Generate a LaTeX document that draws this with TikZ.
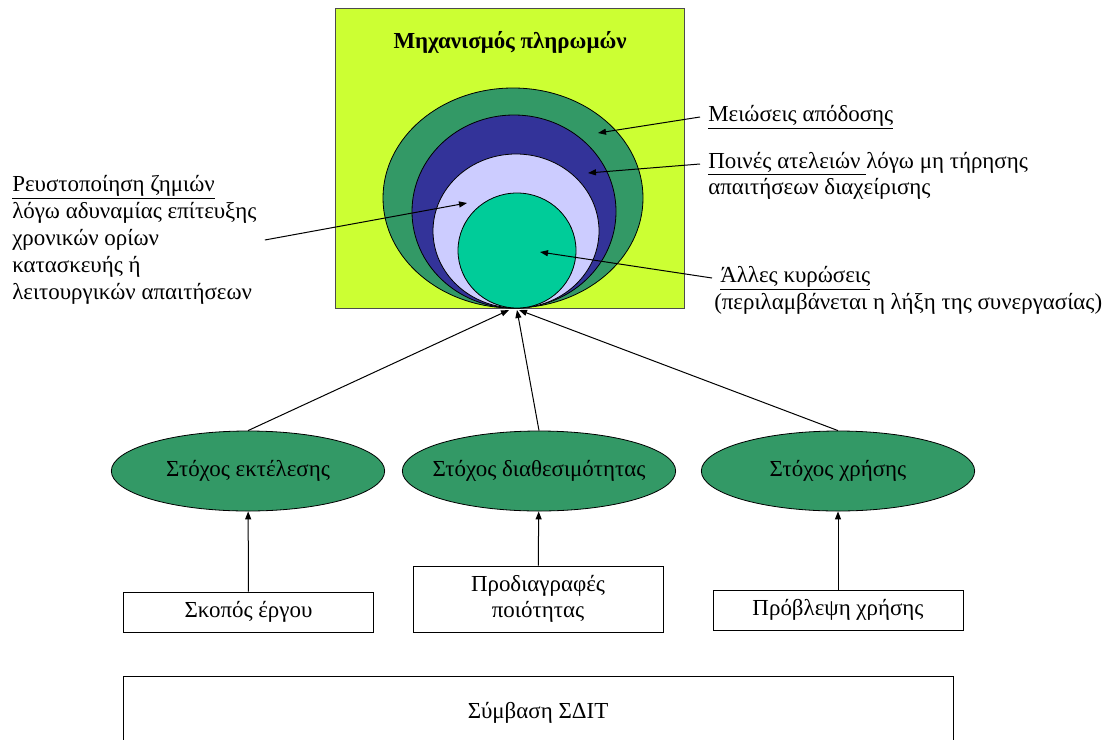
\documentclass[tikz,border=0pt]{standalone}
\usepackage{fontspec}
\setmainfont{Liberation Serif}
\usetikzlibrary{shapes.geometric,arrows.meta}
\definecolor{limebg}{RGB}{204,255,51}
\definecolor{seagreen}{RGB}{51,153,102}
\definecolor{navyring}{RGB}{51,51,153}
\definecolor{lavring}{RGB}{204,204,255}
\definecolor{tealring}{RGB}{0,204,153}
\tikzset{
  lnk/.style={line width=0.75pt,-{Triangle[length=6pt,width=4.5pt]}},
  tag/.style={inner xsep=6pt,inner ysep=1pt,anchor=west,font=\fontsize{17.2}{20.2}\selectfont},
  goal/.style={ellipse,draw,fill=seagreen,line width=0.6pt,minimum width=205pt,minimum height=60pt,inner xsep=-10pt,inner ysep=0pt,font=\fontsize{17.2}{20}\selectfont},
  srcbox/.style={draw,line width=0.6pt,minimum width=187.5pt,inner sep=0pt,align=center,font=\fontsize{17.2}{19}\selectfont}
}
\begin{document}
\begin{tikzpicture}[x=0.75pt,y=0.75pt,yscale=-1,xscale=1]
\useasboundingbox (0,0) rectangle (1102,739);
\clip (0,0) rectangle (1102,739);
% payment mechanism
\node [draw=black!70,fill=limebg,line width=0.6pt,minimum width=261.75pt,minimum height=225pt,inner sep=0pt] (mech) at (509.5,158.5) {};
\node [font=\bfseries\fontsize{17.2}{20}\selectfont] (title) at (510,42) {Μηχανισμός πληρωμών};
\draw [fill=seagreen,line width=0.6pt] (513,198) ellipse (130 and 110);
\draw [fill=navyring,line width=0.6pt] (514,211.5) ellipse (102 and 96.5);
\draw [fill=lavring,line width=0.6pt] (516,231) ellipse (83 and 77);
\draw [fill=tealring,line width=0.6pt] (517,250.5) ellipse (59 and 57.5);
\coordinate (tMeio) at (598,133);
\coordinate (tPoin) at (588,173);
\coordinate (tRuin) at (467,203);
\coordinate (tAlle) at (540,252);
\coordinate (tipL) at (509,310);
\coordinate (tipM) at (517,310);
\coordinate (tipR) at (519,310);
% labels
\node [tag] (meio) at (700,117) {\underline{Μειώσεις απόδοσης}};
\node [tag] (poin) at (700,164) {\underline{Ποινές ατελειών }λόγω μη τήρησης};
\node [tag] (poin2) at (700,189) {απαιτήσεων διαχείρισης};
\node [tag] (alle) at (712,278) {\underline{Άλλες κυρώσεις}};
\node [tag] (alle2) at (706,304) {(περιλαμβάνεται η λήξη της συνεργασίας)};
\node [tag,align=left] (ruin) at (4,240) {\underline{Ρευστοποίηση ζημιών}\\λόγω αδυναμίας επίτευξης\\χρονικών ορίων\\κατασκευής ή\\λειτουργικών απαιτήσεων};
\draw [lnk] (meio.west) -- (tMeio);
\draw [lnk] (poin.west) -- (tPoin);
\draw [lnk] (alle.west) -- (tAlle);
\draw [lnk] (ruin.east) -- (tRuin);
% targets
\node [goal] (g1) at (248,471) {Στόχος εκτέλεσης};
\node [goal] (g2) at (539,471) {Στόχος διαθεσιμότητας};
\node [goal] (g3) at (838,471) {Στόχος χρήσης};
\draw [lnk] (g1.north) -- (tipL);
\draw [lnk] (g2.north) -- (tipM);
\draw [lnk] (g3.north) -- (tipR);
% sources
\node [srcbox,minimum height=30pt] (b1) at (248.5,612) {Σκοπός έργου};
\node [srcbox,minimum height=49.5pt] (b2) at (538,599) {Προδιαγραφές\\ποιότητας};
\node [srcbox,minimum height=30pt] (b3) at (838,610) {Πρόβλεψη χρήσης};
\draw [lnk] (b1) -- (g1);
\draw [lnk] (b2) -- (g2);
\draw [lnk] (b3) -- (g3);
\node [draw,line width=0.6pt,minimum width=622.5pt,minimum height=55.5pt,inner sep=0pt,font=\fontsize{17.2}{20}\selectfont] (ppp) at (538,713) {Σύμβαση ΣΔΙΤ};
\end{tikzpicture}
\end{document}
